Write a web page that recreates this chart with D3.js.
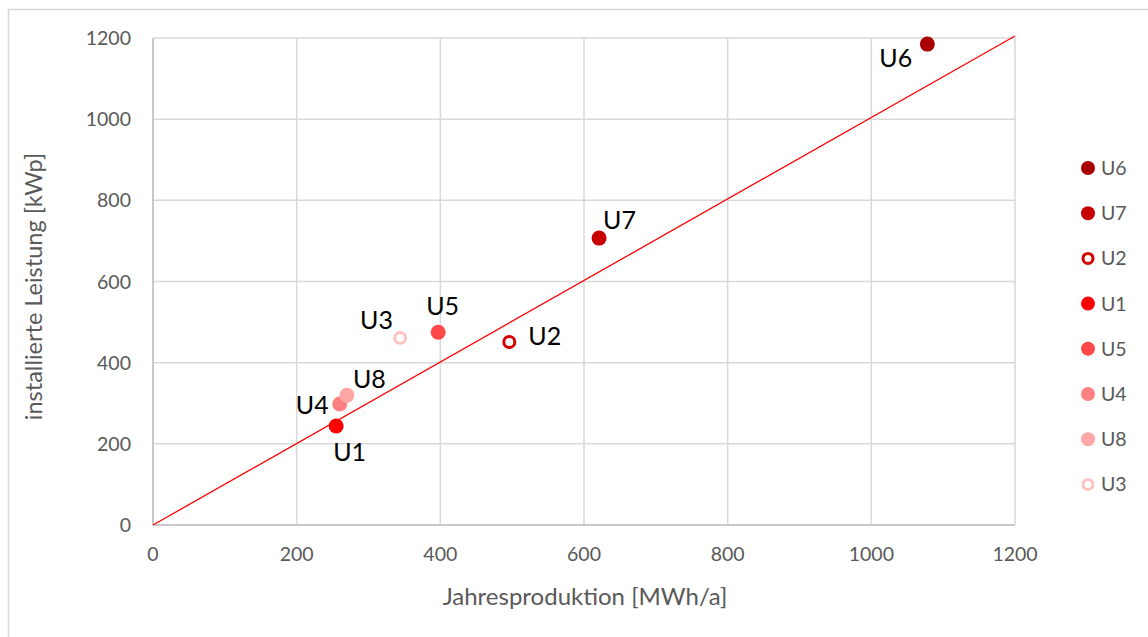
<!DOCTYPE html>
<html>
<head>
<meta charset="utf-8">
<script src="https://cdn.jsdelivr.net/npm/d3@7"></script>
<style>
  body { margin: 0; background: #fff; }
  svg text { font-family: Lato, "Open Sans", sans-serif; }
</style>
</head>
<body>
<svg id="chart" width="1148" height="637"></svg>
<script>
// data
var names = ["U6", "U7", "U2", "U1", "U5", "U4", "U8", "U3"];
var production = [1078, 621, 496, 255, 397, 260, 270, 344];   // MWh/a
var power = [1185, 707, 451, 244, 475, 298, 320, 461];         // kWp
var colors = ["#a80000", "#c80000", "#d40000", "#ff0000", "#ff4848", "#ff8080", "#ffa6a6", "#ffc2c2"];
var hollow = [false, false, true, false, false, false, false, true];
var xTicks = [0, 200, 400, 600, 800, 1000, 1200];
var yTicks = [0, 200, 400, 600, 800, 1000, 1200];
var trendLine = [[0, 0], [1200, 1205]];

var svg = d3.select("#chart");

// outer frame
svg.append("rect")
  .attr("x", 8.5).attr("y", 9.5)
  .attr("width", 1160).attr("height", 650)
  .attr("fill", "none").attr("stroke", "#d9d9d9").attr("stroke-width", 1.5);

var margin = { left: 153, top: 38, right: 1015, bottom: 525 };

var x = d3.scaleLinear().domain([0, 1200]).range([margin.left, margin.right]);
var y = d3.scaleLinear().domain([0, 1200]).range([margin.bottom, margin.top]);

// grid
var grid = svg.append("g");
grid.selectAll("line.v").data(xTicks).enter().append("line")
  .attr("x1", function(d) { return x(d); }).attr("x2", function(d) { return x(d); })
  .attr("y1", y(0)).attr("y2", y(1200))
  .attr("stroke", "#d9d9d9").attr("stroke-width", 1.5);
grid.selectAll("line.h").data(yTicks).enter().append("line")
  .attr("y1", function(d) { return y(d); }).attr("y2", function(d) { return y(d); })
  .attr("x1", x(0)).attr("x2", x(1200))
  .attr("stroke", "#d9d9d9").attr("stroke-width", 1.5);

// axes lines (slightly darker)
svg.append("line").attr("x1", x(0)).attr("x2", x(1200)).attr("y1", y(0)).attr("y2", y(0))
  .attr("stroke", "#bfbfbf").attr("stroke-width", 1.5);
svg.append("line").attr("x1", x(0)).attr("x2", x(0)).attr("y1", y(0)).attr("y2", y(1200))
  .attr("stroke", "#bfbfbf").attr("stroke-width", 1.5);

// tick labels
svg.append("g").selectAll("text").data(xTicks).enter().append("text")
  .attr("x", function(d) { return x(d); }).attr("y", 561)
  .attr("text-anchor", "middle").attr("font-size", 19.5).attr("fill", "#595959")
  .text(function(d) { return d; });
svg.append("g").selectAll("text").data(yTicks).enter().append("text")
  .attr("x", 131).attr("y", function(d) { return y(d) + 7; })
  .attr("text-anchor", "end").attr("font-size", 19.5).attr("fill", "#595959")
  .text(function(d) { return d; });

// axis titles
svg.append("text").attr("x", x(600) + 1).attr("y", 605)
  .attr("text-anchor", "middle").attr("font-size", 24).attr("fill", "#595959")
  .text("Jahresproduktion [MWh/a]");
svg.append("text")
  .attr("transform", "translate(42," + ((margin.top + margin.bottom) / 2 + 5) + ") rotate(-90)")
  .attr("text-anchor", "middle").attr("font-size", 23.5).attr("fill", "#595959")
  .text("installierte Leistung [kWp]");

// trend line
svg.append("path")
  .attr("d", d3.line().x(function(d) { return x(d[0]); }).y(function(d) { return y(d[1]); })(trendLine))
  .attr("stroke", "#ff0000").attr("stroke-width", 1.3).attr("fill", "none");

var pts = names.map(function(n, i) {
  return { name: n, px: production[i], py: power[i], color: colors[i], hollow: hollow[i] };
});

// points
svg.append("g").selectAll("circle").data(pts).enter().append("circle")
  .attr("cx", function(d) { return x(d.px); })
  .attr("cy", function(d) { return y(d.py); })
  .attr("r", function(d) { return d.hollow ? 5.5 : 7.5; })
  .attr("fill", function(d) { return d.hollow ? "#fff" : d.color; })
  .attr("stroke", function(d) { return d.hollow ? d.color : "none"; })
  .attr("stroke-width", 3);

// point labels: offset from the point
var labelOffset = {
  U6: [-48, 23], U7: [4, -9], U2: [19, 3], U1: [-3, 35],
  U5: [-12, -17], U4: [-44, 10], U8: [6, -7], U3: [-40, -9]
};
svg.append("g").selectAll("text").data(pts).enter().append("text")
  .attr("x", function(d) { return x(d.px) + labelOffset[d.name][0]; })
  .attr("y", function(d) { return y(d.py) + labelOffset[d.name][1]; })
  .attr("font-size", 25).attr("fill", "#000")
  .text(function(d) { return d.name; });

// legend
var legend = svg.append("g").selectAll("g").data(pts).enter().append("g")
  .attr("transform", function(d, i) { return "translate(1088," + (168 + i * 45.2) + ")"; });
legend.append("circle")
  .attr("r", function(d) { return d.hollow ? 5 : 7; })
  .attr("fill", function(d) { return d.hollow ? "#fff" : d.color; })
  .attr("stroke", function(d) { return d.hollow ? d.color : "none"; })
  .attr("stroke-width", 3);
legend.append("text")
  .attr("x", 13).attr("y", 7)
  .attr("font-size", 19.5).attr("fill", "#595959")
  .text(function(d) { return d.name; });
</script>
</body>
</html>
